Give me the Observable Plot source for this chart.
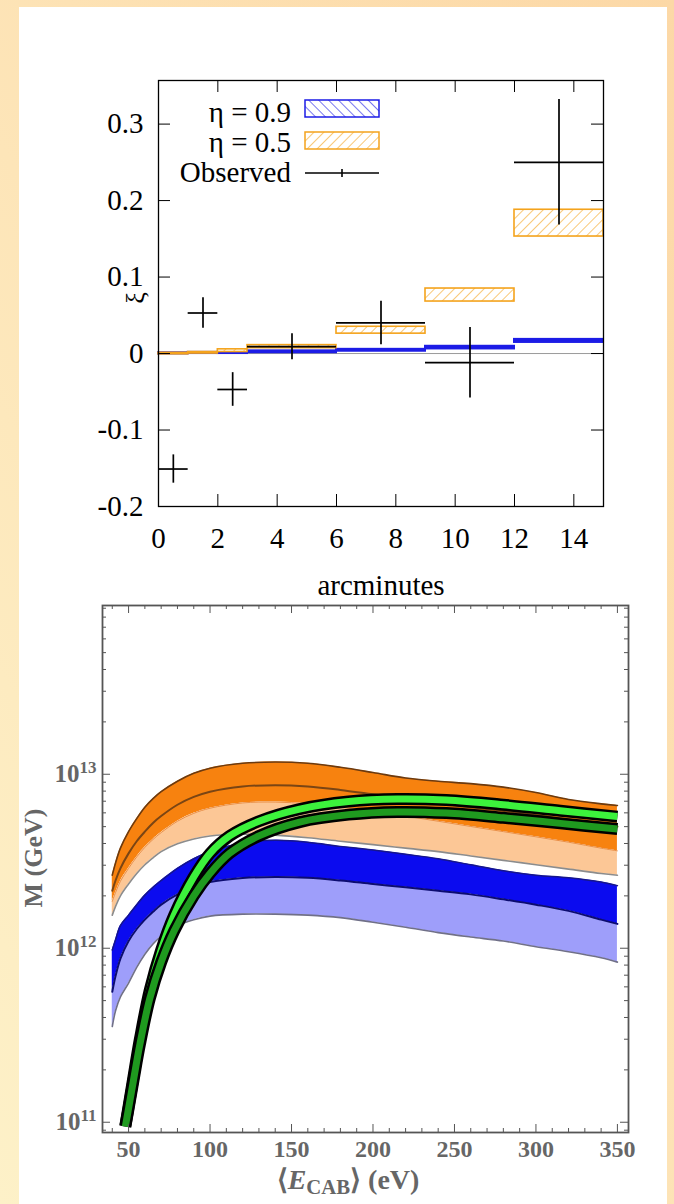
<!DOCTYPE html>
<html>
<head>
<meta charset="utf-8">
<script src="https://cdn.jsdelivr.net/npm/d3@7"></script>
<script src="https://cdn.jsdelivr.net/npm/@observablehq/plot@0.6"></script>
<style>
html, body { margin: 0; padding: 0; }
body {
  width: 674px; height: 1204px; position: relative; overflow: hidden;
  background: linear-gradient(to bottom left, #fcd8a6 0%, #fde2b4 45%, #fdf1c8 100%);
}
#panel { position: absolute; left: 19px; top: 7px; width: 648px; height: 1197px; background: #fff; }
#top { position: absolute; left: 0; top: 0; }
#bottom { position: absolute; left: 0; top: 600px; }
svg { overflow: visible; }
</style>
</head>
<body>
<div id="panel"></div>
<div id="top"></div>
<div id="bottom"></div>
<script>
// ---------------- Top chart data (xi vs arcminutes) ----------------
const binLo   = [0, 1, 2, 3, 6, 9, 12];
const binHi   = [1, 2, 3, 6, 9, 12, 15];
const eta09Lo = [-0.0005, 0.0000, 0.0000, 0.0010, 0.0030, 0.0060, 0.0145];
const eta09Hi = [ 0.0010, 0.0015, 0.0015, 0.0035, 0.0055, 0.0095, 0.0185];
const eta05Lo = [-0.0010, 0.0000, 0.0020, 0.0070, 0.0260, 0.0680, 0.1530];
const eta05Hi = [ 0.0010, 0.0020, 0.0055, 0.0110, 0.0350, 0.0850, 0.1880];
const obsX    = [0.5, 1.5, 2.5, 4.5, 7.5, 10.5, 13.5];
const obsY    = [-0.151, 0.053, -0.047, 0.009, 0.040, -0.012, 0.250];
const obsErr  = [0.0185, 0.020, 0.022, 0.017, 0.0285, 0.046, 0.082];
const xiTicks  = [-0.2, -0.1, 0, 0.1, 0.2, 0.3];
const xiLabels = ["-0.2", "-0.1", "0", "0.1", "0.2", "0.3"];
const arcTicks = [0, 2, 4, 6, 8, 10, 12, 14];
const legendLabels = ["η = 0.9", "η = 0.5", "Observed"];

// ---------------- Bottom chart data (M in GeV vs <E_CAB> in eV) ----------------
const ecab        = [40, 42, 45, 50, 55, 60, 65, 70, 80, 90, 100, 120, 140, 160, 180, 200, 220, 240, 260, 280, 300, 320, 340, 350];
const orangeUpper = [2.63e12, 3.09e12, 3.76e12, 4.68e12, 5.56e12, 6.46e12, 7.24e12, 7.94e12, 9.12e12, 1.012e13, 1.084e13, 1.156e13, 1.175e13, 1.156e13, 1.096e13, 1.023e13, 9.51e12, 9.12e12, 8.83e12, 8.43e12, 7.85e12, 7.16e12, 6.76e12, 6.61e12];
const orangeMid   = [2.14e12, 2.45e12, 2.88e12, 3.51e12, 4.12e12, 4.68e12, 5.25e12, 5.75e12, 6.68e12, 7.41e12, 7.94e12, 8.51e12, 8.65e12, 8.51e12, 8.13e12, 7.67e12, 7.24e12, 6.84e12, 6.46e12, 6.17e12, 5.82e12, 5.50e12, 5.19e12, 5.01e12];
const orangeInner = [1.86e12, 2.09e12, 2.43e12, 2.88e12, 3.35e12, 3.80e12, 4.22e12, 4.62e12, 5.37e12, 5.96e12, 6.38e12, 6.84e12, 6.92e12, 6.76e12, 6.46e12, 6.10e12, 5.75e12, 5.37e12, 5.01e12, 4.68e12, 4.37e12, 4.07e12, 3.76e12, 3.63e12];
const orangeLower = [1.55e12, 1.74e12, 2.00e12, 2.34e12, 2.69e12, 3.02e12, 3.31e12, 3.59e12, 3.98e12, 4.25e12, 4.42e12, 4.52e12, 4.47e12, 4.32e12, 4.12e12, 3.94e12, 3.76e12, 3.59e12, 3.39e12, 3.20e12, 3.02e12, 2.85e12, 2.69e12, 2.63e12];
const blueUpper   = [9.77e11, 1.12e12, 1.35e12, 1.55e12, 1.78e12, 2.02e12, 2.24e12, 2.45e12, 2.88e12, 3.27e12, 3.59e12, 4.03e12, 4.17e12, 4.07e12, 3.85e12, 3.67e12, 3.47e12, 3.27e12, 3.02e12, 2.79e12, 2.63e12, 2.54e12, 2.40e12, 2.29e12];
const blueMid     = [5.62e11, 6.92e11, 8.71e11, 1.10e12, 1.29e12, 1.46e12, 1.62e12, 1.78e12, 2.04e12, 2.24e12, 2.40e12, 2.53e12, 2.57e12, 2.54e12, 2.45e12, 2.34e12, 2.24e12, 2.14e12, 2.04e12, 1.91e12, 1.78e12, 1.64e12, 1.46e12, 1.38e12];
const blueLower   = [3.55e11, 4.37e11, 5.25e11, 6.31e11, 7.76e11, 9.23e11, 1.06e12, 1.17e12, 1.35e12, 1.46e12, 1.53e12, 1.57e12, 1.57e12, 1.55e12, 1.50e12, 1.41e12, 1.32e12, 1.23e12, 1.16e12, 1.10e12, 1.02e12, 9.55e11, 8.81e11, 8.32e11];
const greenE      = [48, 50, 53, 57, 63, 70, 78, 90, 100, 112, 130, 155, 185, 215, 245, 280, 315, 350];
const greenBright = [9.55e10, 1.23e11, 1.82e11, 3.02e11, 5.75e11, 9.77e11, 1.55e12, 2.57e12, 3.51e12, 4.42e12, 5.37e12, 6.31e12, 6.97e12, 7.21e12, 7.11e12, 6.68e12, 6.17e12, 5.71e12];
const greenDark   = [9.44e10, 1.20e11, 1.74e11, 2.82e11, 5.13e11, 8.32e11, 1.26e12, 2.00e12, 2.69e12, 3.51e12, 4.42e12, 5.31e12, 5.86e12, 6.07e12, 5.98e12, 5.62e12, 5.22e12, 4.84e12];
const eTicks  = [50, 100, 150, 200, 250, 300, 350];
const eMinor  = [40, 60, 70, 80, 90, 110, 120, 130, 140, 160, 170, 180, 190, 210, 220, 230, 240, 260, 270, 280, 290, 310, 320, 330, 340];
const mTicks  = [1e11, 1e12, 1e13];
const mLabels = ["11", "12", "13"];
const mMinor  = [9e10, 2e11, 3e11, 4e11, 5e11, 6e11, 7e11, 8e11, 9e11, 2e12, 3e12, 4e12, 5e12, 6e12, 7e12, 8e12, 9e12, 2e13, 3e13, 4e13, 5e13, 6e13, 7e13, 8e13, 9e13];

// ================= TOP CHART =================
const serif = "Liberation Serif, Times New Roman, serif";
const T = {w: 674, h: 605, l: 158, r: 71, t: 80, b: 99};
const tpw = T.w - T.l - T.r, tph = T.h - T.t - T.b;
const bins09 = binLo.map((lo, i) => ({x1: lo, x2: binHi[i], y1: eta09Lo[i], y2: eta09Hi[i]}));
const bins05 = binLo.map((lo, i) => ({x1: lo, x2: binHi[i], y1: eta05Lo[i], y2: eta05Hi[i]}));
const obs = obsX.map((x, i) => ({x, x1: binLo[i], x2: binHi[i], y: obsY[i], lo: obsY[i] - obsErr[i], hi: obsY[i] + obsErr[i]}));
const BLUE = "#1c1ce6", ORANGE = "#f4a31c";

const topSvg = Plot.plot({
  width: T.w, height: T.h,
  marginLeft: T.l, marginRight: T.r, marginTop: T.t, marginBottom: T.b,
  style: {fontFamily: serif, fontSize: "29px", color: "black", background: "transparent", overflow: "visible"},
  x: {domain: [0, 15]},
  y: {domain: [-0.2, 0.357]},
  marks: [
    Plot.ruleY([0], {stroke: "#9a9a9a", strokeWidth: 1}),
    Plot.rect(bins09, {x1: "x1", x2: "x2", y1: "y1", y2: "y2", fill: BLUE, stroke: BLUE, strokeWidth: 2}),
    Plot.rect(bins05, {x1: "x1", x2: "x2", y1: "y1", y2: "y2", fill: "url(#hatchOrange)", stroke: ORANGE, strokeWidth: 1.6}),
    Plot.ruleY(obs, {x1: "x1", x2: "x2", y: "y", stroke: "black", strokeWidth: 1.7}),
    Plot.ruleX(obs, {x: "x", y1: "lo", y2: "hi", stroke: "black", strokeWidth: 1.7}),
    Plot.tickX(arcTicks, {x: d => d, insetTop: tph - 12, stroke: "black", strokeWidth: 1}),
    Plot.tickX(arcTicks, {x: d => d, insetBottom: tph - 12, stroke: "black", strokeWidth: 1}),
    Plot.tickY(xiTicks, {y: d => d, insetRight: tpw - 12, stroke: "black", strokeWidth: 1}),
    Plot.tickY(xiTicks, {y: d => d, insetLeft: tpw - 12, stroke: "black", strokeWidth: 1}),
    Plot.frame({stroke: "black", strokeWidth: 1.3}),
    Plot.axisX({ticks: arcTicks, tickSize: 0, tickPadding: 21, label: null, fontFamily: serif, tickFormat: d => String(d)}),
    Plot.axisY({ticks: xiTicks, tickSize: 0, tickPadding: 15, label: null, fontFamily: serif, tickFormat: d => xiLabels[xiTicks.indexOf(d)]})
  ]
});
document.getElementById("top").appendChild(topSvg);
{
  const s = d3.select(topSvg);
  s.insert("defs", ":first-child").html(`
    <pattern id="hatchBlue" patternUnits="userSpaceOnUse" width="7" height="7" patternTransform="rotate(-45)">
      <rect width="7" height="7" fill="white"/><line x1="0" y1="0" x2="0" y2="7" stroke="${BLUE}" stroke-width="1.2"/>
    </pattern>
    <pattern id="hatchOrange" patternUnits="userSpaceOnUse" width="7" height="7" patternTransform="rotate(45)">
      <rect width="7" height="7" fill="white"/><line x1="0" y1="0" x2="0" y2="7" stroke="${ORANGE}" stroke-width="1.2"/>
    </pattern>`);
  const g = s.append("g").attr("font-family", serif).attr("font-size", 29).attr("fill", "black");
  // legend
  g.append("text").attr("x", 291).attr("y", 121.5).attr("text-anchor", "end").text(legendLabels[0]);
  g.append("rect").attr("x", 305).attr("y", 100).attr("width", 74).attr("height", 17).attr("fill", "url(#hatchBlue)").attr("stroke", BLUE).attr("stroke-width", 1.5);
  g.append("text").attr("x", 291).attr("y", 151.5).attr("text-anchor", "end").text(legendLabels[1]);
  g.append("rect").attr("x", 305).attr("y", 132).attr("width", 74).attr("height", 17).attr("fill", "url(#hatchOrange)").attr("stroke", ORANGE).attr("stroke-width", 1.5);
  g.append("text").attr("x", 291).attr("y", 181.5).attr("text-anchor", "end").text(legendLabels[2]);
  g.append("line").attr("x1", 305).attr("x2", 379).attr("y1", 173).attr("y2", 173).attr("stroke", "black").attr("stroke-width", 1.6);
  g.append("line").attr("x1", 342).attr("x2", 342).attr("y1", 169).attr("y2", 177).attr("stroke", "black").attr("stroke-width", 1.6);
  // axis titles
  g.append("text").attr("x", 381).attr("y", 595).attr("text-anchor", "middle").text("arcminutes");
  g.append("text").attr("transform", "translate(144,298) rotate(-90)").attr("text-anchor", "middle").attr("font-size", 26).text("ξ");
}

// ================= BOTTOM CHART =================
const B = {w: 674, h: 604, l: 102, r: 46, t: 5, b: 72};
const bpw = B.w - B.l - B.r, bph = B.h - B.t - B.b;
const band = ecab.map((e, i) => ({e, oU: orangeUpper[i], oM: orangeMid[i], oB: orangeInner[i], oL: orangeLower[i], bU: blueUpper[i], bM: blueMid[i], bL: blueLower[i]}));
const green = greenE.map((e, i) => ({e, a: greenBright[i], b: greenDark[i]}));
const cv = "catmull-rom";
const GRAY = "#555";

const botSvg = Plot.plot({
  width: B.w, height: B.h,
  marginLeft: B.l, marginRight: B.r, marginTop: B.t, marginBottom: B.b,
  style: {fontFamily: serif, fontSize: "24px", fontWeight: "bold", color: "#666", background: "transparent", overflow: "visible"},
  x: {domain: [34, 356.8]},
  y: {type: "log", domain: [8.73e10, 9.33e13]},
  marks: [
    Plot.areaY(band, {x: "e", y1: "oB", y2: "oU", fill: "#f7820f", curve: cv}),
    Plot.areaY(band, {x: "e", y1: "oL", y2: "oB", fill: "#fcc796", curve: cv}),
    Plot.line(band, {x: "e", y: "oB", stroke: "#ea9048", strokeWidth: 1, curve: cv}),
    Plot.line(band, {x: "e", y: "oU", stroke: "#6b3a10", strokeWidth: 1.6, curve: cv}),
    Plot.line(band, {x: "e", y: "oM", stroke: "#7a4514", strokeWidth: 2, curve: cv}),
    Plot.line(band, {x: "e", y: "oL", stroke: "#8c8c8c", strokeWidth: 1.6, curve: cv}),
    Plot.areaY(band, {x: "e", y1: "bM", y2: "bU", fill: "#0b0bef", curve: cv}),
    Plot.areaY(band, {x: "e", y1: "bL", y2: "bM", fill: "#9e9efa", curve: cv}),
    Plot.line(band, {x: "e", y: "bU", stroke: "#16168c", strokeWidth: 1.5, curve: cv}),
    Plot.line(band, {x: "e", y: "bM", stroke: "#0c0c70", strokeWidth: 2, curve: cv}),
    Plot.line(band, {x: "e", y: "bL", stroke: "#707088", strokeWidth: 1.6, curve: cv}),
    Plot.line(green, {x: "e", y: "a", stroke: "black", strokeWidth: 12, curve: cv, strokeLinecap: "butt"}),
    Plot.line(green, {x: "e", y: "a", stroke: "#3cf23c", strokeWidth: 7, curve: cv, strokeLinecap: "butt"}),
    Plot.line(green, {x: "e", y: "b", stroke: "black", strokeWidth: 12, curve: cv, strokeLinecap: "butt"}),
    Plot.line(green, {x: "e", y: "b", stroke: "#1f9a1f", strokeWidth: 7, curve: cv, strokeLinecap: "butt"}),
    Plot.tickX(eTicks, {x: d => d, insetTop: bph - 8, stroke: GRAY}),
    Plot.tickX(eMinor, {x: d => d, insetTop: bph - 4, stroke: GRAY}),
    Plot.tickX(eTicks, {x: d => d, insetBottom: bph - 8, stroke: GRAY}),
    Plot.tickX(eMinor, {x: d => d, insetBottom: bph - 4, stroke: GRAY}),
    Plot.tickY(mTicks, {y: d => d, insetRight: bpw - 8, stroke: GRAY}),
    Plot.tickY(mMinor, {y: d => d, insetRight: bpw - 4, stroke: GRAY}),
    Plot.tickY(mTicks, {y: d => d, insetLeft: bpw - 8, stroke: GRAY}),
    Plot.tickY(mMinor, {y: d => d, insetLeft: bpw - 4, stroke: GRAY}),
    Plot.frame({stroke: GRAY, strokeWidth: 1.8}),
    Plot.axisX({ticks: eTicks, tickSize: 0, tickPadding: 7, label: null, tickFormat: d => String(d)}),
    Plot.axisY({ticks: mTicks, tickSize: 0, tickPadding: 6, label: null, fontSize: 25, tickFormat: d => "10^" + mLabels[mTicks.indexOf(d)]})
  ]
});
document.getElementById("bottom").appendChild(botSvg);
{
  const s = d3.select(botSvg);
  s.selectAll('g[aria-label="y-axis tick label"] text').each(function() {
    const m = this.textContent.match(/^10\^(\d+)$/);
    if (!m) return;
    const t = d3.select(this);
    t.text("");
    t.append("tspan").text("10");
    t.append("tspan").attr("dy", "-0.55em").attr("font-size", "0.68em").text(m[1]);
  });
  const g = s.append("g").attr("font-family", serif).attr("font-weight", "bold").attr("fill", "#666");
  const xt = g.append("text").attr("x", 348).attr("y", 589).attr("text-anchor", "middle").attr("font-size", 28);
  xt.append("tspan").text("⟨");
  xt.append("tspan").attr("font-style", "italic").text("E");
  xt.append("tspan").attr("font-size", "0.74em").attr("dy", "0.22em").text("CAB");
  xt.append("tspan").attr("dy", "-0.16em").text("⟩ (eV)");
  g.append("text").attr("transform", "translate(42,258) rotate(-90)").attr("text-anchor", "middle").attr("font-size", 26).text("M (GeV)");
}
</script>
</body>
</html>
